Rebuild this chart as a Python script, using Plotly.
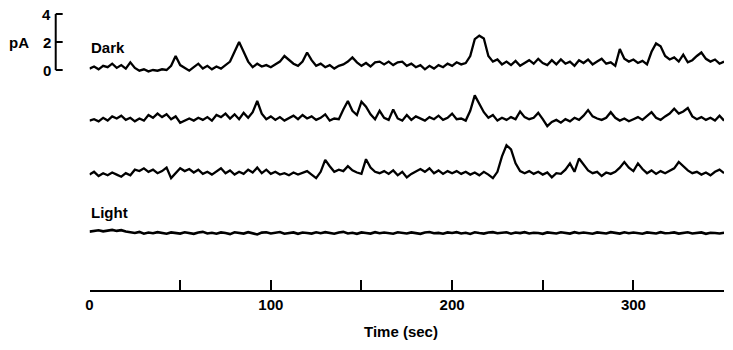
import plotly.graph_objects as go

# ---------------- data ----------------
STEP = 2.5  # seconds between samples
time_sec = [round(i * STEP, 1) for i in range(141)]

dark1 = [
    0.1, 0.25, 0.05, 0.3, 0.2, 0.45, 0.15, 0.35, 0.1, 0.55, 0.15, -0.05,
    0.05, -0.1, 0.0, -0.05, 0.05, 0.0, 0.3, 1.0, 0.35, 0.15, -0.05, 0.2,
    0.45, 0.1, 0.3, 0.05, 0.25, 0.1, 0.35, 0.6, 1.3, 2.0, 1.3, 0.6,
    0.2, 0.45, 0.25, 0.35, 0.2, 0.4, 0.6, 1.0, 0.7, 0.45, 0.3, 0.6,
    1.25, 0.7, 0.3, 0.45, 0.2, 0.35, 0.1, 0.3, 0.4, 0.6, 0.9, 0.55,
    0.3, 0.5, 0.25, 0.55, 0.6, 0.4, 0.6, 0.35, 0.55, 0.6, 0.3, 0.45,
    0.2, 0.35, 0.05, 0.3, 0.1, 0.35, 0.2, 0.45, 0.3, 0.55, 0.4, 0.5,
    1.0, 2.2, 2.45, 2.25, 1.0, 0.6, 0.75, 0.4, 0.6, 0.35, 0.65, 0.3,
    0.5, 0.7, 0.45, 0.8, 0.5, 0.35, 0.7, 0.4, 0.75, 0.45, 0.6, 0.3,
    0.7, 0.5, 0.75, 0.4, 0.6, 0.8, 0.45, 0.55, 0.3, 1.5, 0.8, 0.6,
    0.75, 0.5, 0.65, 0.4, 1.3, 1.9, 1.7, 1.0, 0.75, 0.9, 0.6, 1.1,
    0.55, 0.7, 1.0, 1.25, 0.8, 0.6, 0.75, 0.45, 0.6,
]

dark2 = [
    0.1, 0.2, 0.05, 0.3, 0.1, 0.4, 0.25, 0.45, 0.15, 0.3, 0.05, 0.25,
    0.1, 0.5, 0.3, 0.6, 0.35, 0.55, 0.2, 0.4, -0.05, 0.1, 0.25, 0.1,
    0.3, 0.15, 0.35, 0.1, 0.5, 0.35, 0.6, 0.25, 0.55, 0.2, 0.65, 0.3,
    0.7, 1.5, 0.6, 0.2, 0.4, 0.15, 0.35, 0.1, 0.3, 0.45, 0.2, 0.5,
    0.25, 0.4, 0.15, 0.3, 0.55, 0.1, 0.25, 0.2, 0.9, 1.5, 0.8, 0.5,
    1.45, 1.1, 0.55, 0.2, 0.8, 0.3, 0.15, 0.9, 0.25, 0.1, 0.5, 0.15,
    0.4, 0.25, 0.1, 0.35, 0.2, 0.45, 0.15, 0.3, 0.6, 0.2, 0.25, 0.1,
    0.8, 1.9, 1.3, 0.7, 0.3, 0.5, 0.1, 0.3, 0.15, 0.35, 0.2, 0.75,
    0.35, 0.2, 0.3, 0.65, 0.2, -0.3, 0.0, 0.15, -0.05, 0.2, 0.05, 0.3,
    0.15, 0.45, 0.85, 0.4, 0.25, 0.15, 0.3, 0.7, 0.3, 0.1, 0.25, 0.05,
    0.2, 0.35, 0.15, 0.45, 0.7, 0.3, 0.15, 0.4, 0.6, 0.95, 0.6, 0.75,
    1.0, 0.4, 0.2, 0.35, 0.15, 0.3, 0.1, 0.45, 0.1,
]

dark3 = [
    0.1, 0.3, 0.0, 0.2, 0.05, 0.25, 0.1, -0.05, 0.2, 0.05, 0.45, 0.35,
    0.55, 0.3, 0.45, 0.2, 0.35, 0.6, -0.15, 0.2, 0.55, 0.35, 0.5, 0.25,
    0.45, 0.15, 0.3, 0.1, 0.35, 0.55, 0.2, 0.4, 0.1, 0.3, 0.15, 0.45,
    0.25, 0.6, 0.2, 0.45, 0.15, 0.3, 0.1, 0.2, 0.05, 0.25, 0.1, 0.2,
    0.35, 0.1, -0.15, 0.3, 1.15, 0.7, 0.3, 0.45, 0.35, 0.7, 0.4, 0.25,
    0.15, 1.2, 0.6, 0.3, 0.2, 0.35, 0.15, 0.4, 0.05, 0.3, -0.1, 0.15,
    0.3, 0.5, 0.3, 0.55, 0.2, 0.4, 0.15, 0.35, 0.2, 0.35, 0.15, 0.3,
    0.1, 0.25, 0.05, 0.3, 0.1, -0.15, 0.3, 1.4, 2.2, 1.9, 0.9, 0.35,
    0.2, 0.35, 0.15, 0.3, 0.1, 0.25, -0.1, 0.2, 0.15, 0.45, 0.9, 0.3,
    1.25, 0.8, 0.4, 0.2, 0.3, 0.0, 0.25, 0.15, 0.3, 0.6, 1.0, 0.6,
    0.35, 0.9, 0.5, 0.2, 0.4, 0.15, 0.35, 0.2, 0.35, 0.55, 1.0, 0.7,
    0.4, 0.2, 0.3, 0.1, 0.25, 0.05, 0.3, 0.45, 0.2,
]

light = [
    0.1, 0.15, 0.2, 0.12, 0.18, 0.22, 0.15, 0.2, 0.1, 0.05,
    0.0, 0.08, -0.05, 0.03, -0.02, 0.06, 0.0, -0.05, 0.04, 0.0,
    -0.04, 0.05, 0.0, -0.06, 0.03, 0.08, -0.03, 0.02, -0.05, 0.04,
    0.0, -0.08, 0.05, 0.02, -0.04, 0.06, 0.0, -0.1, 0.03, 0.05,
    -0.03, 0.02, 0.07, -0.05, 0.0, 0.04, -0.06, 0.03, 0.0, -0.04,
    0.05, -0.02, 0.06, 0.0, -0.05, 0.03, 0.08, -0.03, 0.02, -0.06,
    0.04, 0.0, -0.04, 0.06, -0.02, 0.03, 0.0, -0.05, 0.05, 0.02,
    -0.03, 0.04, 0.0, -0.06, 0.03, 0.07, -0.02, 0.01, -0.05, 0.04,
    0.0, 0.06, -0.03, 0.02, -0.07, 0.05, 0.0, -0.04, 0.03, 0.06,
    -0.02, 0.0, 0.05, -0.05, 0.03, -0.01, 0.06, -0.03, 0.02, 0.0,
    -0.06, 0.04, 0.01, -0.03, 0.05, 0.0, -0.04, 0.06, -0.02, 0.03,
    0.0, -0.05, 0.04, 0.02, -0.03, 0.06, 0.0, -0.04, 0.05, -0.02,
    0.03, 0.0, -0.05, 0.04, 0.01, -0.03, 0.06, -0.02, 0.0, 0.04,
    -0.04, 0.02, 0.05, -0.03, 0.0, 0.04, -0.06, 0.02, 0.0, -0.03,
    0.02,
]

x_tick_vals = [0, 50, 100, 150, 200, 250, 300, 350]
x_tick_text = ["0", "", "100", "", "200", "", "300", ""]
scale_vals = [0, 2, 4]
scale_text = ["0", "2", "4"]

# ---------------- layout geometry ----------------
W, H = 733, 350
PX_PER_PA = 14.0
BAND = 60  # half-height (px) of each trace's band
zero_lines_px = [70, 122, 176, 233]  # y pixel of 0 pA for each trace
X_LEFT, X_RIGHT = 86, 724
AXIS_Y = 291
FONT = "Liberation Sans, Arial, sans-serif"
CLEAR = "rgba(0,0,0,0)"

traces = [dark1, dark2, dark3, light]
fig = go.Figure()
for k, vals in enumerate(traces):
    fig.add_trace(go.Scatter(
        x=time_sec, y=vals, mode="lines",
        line=dict(color="black", width=2.3 if k < 3 else 2.6),
        xaxis="x", yaxis=f"y{k + 1 if k else ''}",
        showlegend=False, hoverinfo="skip",
    ))

layout = dict(
    width=W, height=H,
    margin=dict(l=0, r=0, t=0, b=0),
    paper_bgcolor="white", plot_bgcolor=CLEAR,
    font=dict(family=FONT, color="black", size=15, weight="bold"),
    xaxis=dict(
        domain=[X_LEFT / W, X_RIGHT / W], range=[0, 350],
        anchor="free", position=1 - AXIS_Y / H,
        showline=True, linecolor="black", linewidth=2,
        ticks="inside", ticklen=10, tickwidth=2, tickcolor="black",
        tickvals=x_tick_vals, ticktext=x_tick_text,
        tickfont=dict(family=FONT, size=15, color="black", weight="bold"),
        showgrid=False, zeroline=False,
    ),
)
for k, z in enumerate(zero_lines_px):
    name = "yaxis" if k == 0 else f"yaxis{k + 1}"
    layout[name] = dict(
        domain=[1 - (z + BAND) / H, 1 - (z - BAND) / H],
        range=[-BAND / PX_PER_PA, BAND / PX_PER_PA],
        anchor="x", visible=False, fixedrange=True,
    )
fig.update_layout(**layout)

LABEL_FONT = dict(family=FONT, size=15, color="black", weight="bold")

# scale bar (pA) on the first trace's axis
SB_X = 52
fig.add_shape(type="line", xref="paper", yref="y",
              x0=SB_X / W, x1=SB_X / W, y0=min(scale_vals), y1=max(scale_vals),
              line=dict(color="black", width=2))
for v, t in zip(scale_vals, scale_text):
    fig.add_shape(type="line", xref="paper", yref="y",
                  x0=SB_X / W, x1=(SB_X + 7) / W, y0=v, y1=v,
                  line=dict(color="black", width=2))
    fig.add_annotation(x=(SB_X - 3) / W, y=v, xref="paper", yref="y",
                       text=t, showarrow=False, xanchor="right", yanchor="middle",
                       font=LABEL_FONT)
fig.add_annotation(x=3 / W, y=2, xref="paper", yref="y", text="pA",
                   showarrow=False, xanchor="left", yanchor="middle",
                   font=LABEL_FONT)

# trace labels and axis title
fig.add_annotation(x=85 / W, y=1 - 48 / H, xref="paper", yref="paper", text="Dark",
                   showarrow=False, xanchor="left", yanchor="middle", font=LABEL_FONT)
fig.add_annotation(x=85 / W, y=1 - 212 / H, xref="paper", yref="paper", text="Light",
                   showarrow=False, xanchor="left", yanchor="middle", font=LABEL_FONT)
fig.add_annotation(x=399 / W, y=1 - 331 / H, xref="paper", yref="paper",
                   text="Time (sec)", showarrow=False, xanchor="center", yanchor="middle",
                   font=LABEL_FONT)

fig.write_html("out.html")
